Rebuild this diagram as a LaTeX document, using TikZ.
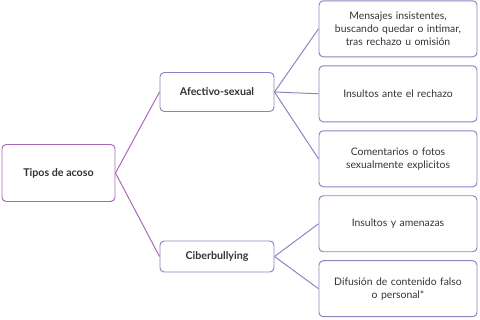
\documentclass[tikz,border=0pt]{standalone}
\usepackage{fontspec}
\setmainfont{Lato}
\usetikzlibrary{positioning}

\definecolor{rootcol}{HTML}{A868BA}
\definecolor{midcol}{HTML}{8C84C2}
\definecolor{txtcol}{HTML}{333333}

\begin{document}
\begin{tikzpicture}[
    font=\fontsize{7.4}{9.4}\selectfont,
    node distance=0.2cm,
    line width=0.7pt,
    every node/.style={align=center, text=txtcol},
    rootbox/.style={rectangle, draw=rootcol, rounded corners=3pt, minimum width=2.825cm, minimum height=1.425cm, font=\fontsize{7.6}{9.4}\selectfont\bfseries},
    midbox/.style={rectangle, draw=midcol, rounded corners=3pt, minimum width=2.85cm, font=\fontsize{7.6}{9.4}\selectfont\bfseries},
    leafbox/.style={rectangle, draw=midcol, rounded corners=3pt, minimum width=3.95cm, minimum height=1.4cm, text width=3.7cm},
    rootline/.style={draw=rootcol},
    midline/.style={draw=midcol}
]
\useasboundingbox (0,0) rectangle (12,-8);

% ----------------------
% Nodes
% ----------------------

% Root
\node[rootbox] (tipos) at (1.4625,-4.325) {Tipos de acoso};

% Second level
\node[midbox, minimum height=0.975cm] (afect) at (5.425,-2.3) {Afectivo-sexual};
\node[midbox, minimum height=0.775cm] (ciber) at (5.425,-6.4125) {Ciberbullying};

% Leaves
\node[leafbox] (mensajes) at (9.95,-0.72) {Mensajes insistentes,\\ buscando quedar o intimar,\\ tras rechazo u omisión};
\node[leafbox, below=of mensajes] (insultos) {Insultos ante el rechazo};
\node[leafbox, below=of insultos] (fotos) {Comentarios o fotos\\ sexualmente explicitos};
\node[leafbox, below=of fotos] (amenazas) {Insultos y amenazas};
\node[leafbox, below=of amenazas] (difusion) {Difusión de contenido falso\\ o personal*};

% ----------------------
% Connectors
% ----------------------

% Root to second level
\draw[rootline] (tipos.east) -- (afect.west);
\draw[rootline] (tipos.east) -- (ciber.west);

% Afectivo-sexual to leaves
\draw[midline] (afect.east) -- (mensajes.west);
\draw[midline] (afect.east) -- (insultos.west);
\draw[midline] (afect.east) -- (fotos.west);

% Ciberbullying to leaves
\draw[midline] (ciber.east) -- (amenazas.west);
\draw[midline] (ciber.east) -- (difusion.west);

\end{tikzpicture}
\end{document}
